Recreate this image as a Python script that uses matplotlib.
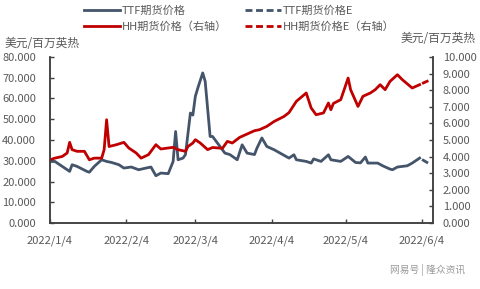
import matplotlib
matplotlib.use("Agg")
import matplotlib.pyplot as plt
import matplotlib.dates as mdates
import pandas as pd

plt.rcParams['font.family'] = ['Noto Sans CJK SC', 'DejaVu Sans']

# TTF futures price (left axis, USD/MMBtu)
ttf_dates = ["2022-01-04", "2022-01-06", "2022-01-09", "2022-01-12", "2022-01-13",
             "2022-01-15", "2022-01-19", "2022-01-20", "2022-01-22", "2022-01-25",
             "2022-01-27", "2022-01-29", "2022-02-01", "2022-02-03", "2022-02-06",
             "2022-02-09", "2022-02-12", "2022-02-14", "2022-02-16", "2022-02-18",
             "2022-02-21", "2022-02-23", "2022-02-24", "2022-02-25", "2022-02-27",
             "2022-02-28", "2022-03-02", "2022-03-03", "2022-03-04", "2022-03-05",
             "2022-03-07", "2022-03-08", "2022-03-10", "2022-03-11", "2022-03-13",
             "2022-03-16", "2022-03-18", "2022-03-21", "2022-03-23", "2022-03-25",
             "2022-03-28", "2022-03-29", "2022-03-31", "2022-04-02", "2022-04-05",
             "2022-04-11", "2022-04-13", "2022-04-14", "2022-04-18", "2022-04-20",
             "2022-04-21", "2022-04-24", "2022-04-27", "2022-04-28", "2022-05-02",
             "2022-05-05", "2022-05-08", "2022-05-10", "2022-05-12", "2022-05-13",
             "2022-05-17", "2022-05-19", "2022-05-22", "2022-05-23", "2022-05-25",
             "2022-05-29", "2022-05-31", "2022-06-03"]
ttf_vals = [29.7, 29.7, 27.3, 24.9, 28.1,
            27.3, 24.9, 24.5, 27.3, 30.5,
            29.7, 29.2, 28.1, 26.5, 27.0,
            25.7, 26.5, 27.0, 22.8, 24.1,
            23.8, 29.7, 44.1, 30.5, 31.3,
            33.0, 53.0, 52.0, 61.0, 65.0,
            72.3, 68.2, 41.7, 41.7, 38.5,
            33.7, 33.0, 30.5, 37.7, 33.7,
            33.0, 36.1, 41.0, 36.9, 35.3,
            31.3, 32.9, 30.5, 29.7, 28.9,
            30.9, 29.7, 32.9, 30.5, 29.7,
            32.1, 29.2, 29.0, 31.8, 28.9,
            28.9, 27.6, 26.0, 25.7, 27.0,
            27.6, 28.9, 31.3]
ttf_e_dates = ["2022-06-04", "2022-06-07"]
ttf_e_vals = [30.6, 28.5]

# HH futures price (right axis, USD/MMBtu)
hh_dates = ["2022-01-04", "2022-01-06", "2022-01-09", "2022-01-11", "2022-01-12",
            "2022-01-13", "2022-01-15", "2022-01-18", "2022-01-20", "2022-01-22",
            "2022-01-25", "2022-01-26", "2022-01-27", "2022-01-28", "2022-01-31",
            "2022-02-03", "2022-02-05", "2022-02-08", "2022-02-10", "2022-02-13",
            "2022-02-16", "2022-02-18", "2022-02-23", "2022-02-25", "2022-02-28",
            "2022-03-01", "2022-03-03", "2022-03-04", "2022-03-06", "2022-03-09",
            "2022-03-11", "2022-03-15", "2022-03-17", "2022-03-19", "2022-03-22",
            "2022-03-25", "2022-03-28", "2022-03-30", "2022-04-02", "2022-04-05",
            "2022-04-09", "2022-04-11", "2022-04-14", "2022-04-18", "2022-04-20",
            "2022-04-22", "2022-04-25", "2022-04-27", "2022-04-28", "2022-04-29",
            "2022-05-02", "2022-05-05", "2022-05-06", "2022-05-09", "2022-05-11",
            "2022-05-14", "2022-05-16", "2022-05-18", "2022-05-20", "2022-05-22",
            "2022-05-25", "2022-05-27", "2022-05-31", "2022-06-03"]
hh_vals = [3.81, 3.91, 4.01, 4.22, 4.86,
           4.42, 4.32, 4.32, 3.81, 3.91,
           3.91, 4.42, 6.22, 4.61, 4.72,
           4.86, 4.52, 4.22, 3.91, 4.12,
           4.72, 4.46, 4.56, 4.42, 4.32,
           4.61, 4.82, 5.02, 4.82, 4.42,
           4.55, 4.50, 4.92, 4.82, 5.16,
           5.36, 5.56, 5.62, 5.82, 6.12,
           6.42, 6.65, 7.33, 7.83, 6.93,
           6.52, 6.63, 7.23, 6.82, 7.20,
           7.43, 8.73, 8.03, 7.02, 7.63,
           7.83, 8.03, 8.33, 8.03, 8.53,
           8.93, 8.63, 8.13, 8.33]
hh_e_dates = ["2022-06-04", "2022-06-07"]
hh_e_vals = [8.40, 8.60]

x_ticks = ["2022-01-04", "2022-02-04", "2022-03-04", "2022-04-04", "2022-05-04", "2022-06-04"]

ttf_color = "#44546A"
hh_color = "#C00000"
axis_color = "#404040"
label_color = "#595959"

fig = plt.figure(figsize=(4.8, 2.89), dpi=100)
ax = fig.add_axes([0.104, 0.228, 0.798, 0.575])
ax2 = ax.twinx()

l1, = ax.plot(pd.to_datetime(ttf_dates), ttf_vals, color=ttf_color, lw=2.0, label="TTF期货价格")
l2, = ax.plot(pd.to_datetime(ttf_e_dates), ttf_e_vals, color=ttf_color, lw=2.0,
              ls=(0, (2.5, 1.3)), label="TTF期货价格E")
l3, = ax2.plot(pd.to_datetime(hh_dates), hh_vals, color=hh_color, lw=2.0, label="HH期货价格（右轴）")
l4, = ax2.plot(pd.to_datetime(hh_e_dates), hh_e_vals, color=hh_color, lw=2.0,
               ls=(0, (2.5, 1.3)), label="HH期货价格E（右轴）")

ax.set_xlim(pd.Timestamp("2022-01-04"), pd.Timestamp("2022-06-08 10:00"))
ax.set_ylim(0, 80)
ax2.set_ylim(0, 10)
ax.set_yticks(range(0, 81, 10))
ax2.set_yticks(range(0, 11, 1))
ax.yaxis.set_major_formatter(plt.FuncFormatter(lambda v, p: f"{v:.3f}"))
ax2.yaxis.set_major_formatter(plt.FuncFormatter(lambda v, p: f"{v:.3f}"))
ax.set_xticks(pd.to_datetime(x_ticks))
ax.xaxis.set_major_formatter(plt.FuncFormatter(
    lambda v, p: f"{mdates.num2date(v).year}/{mdates.num2date(v).month}/{mdates.num2date(v).day}"))

for a in (ax, ax2):
    a.spines["top"].set_visible(False)
    for s in ("left", "right", "bottom"):
        a.spines[s].set_color(axis_color)
        a.spines[s].set_linewidth(1.1)
    a.tick_params(direction="in", length=3, width=1, color=axis_color,
                  labelsize=8, labelcolor=label_color)
ax.tick_params(axis="y", pad=10)
ax2.tick_params(axis="y", pad=7)
ax.tick_params(axis="x", pad=9)

fig.text(0.01, 0.848, "美元/百万英热", fontsize=8.5, color=label_color, va="center")
fig.text(0.99, 0.866, "美元/百万英热", fontsize=8.5, color=label_color, va="center", ha="right")

fig.legend(handles=[l1, l3, l2, l4], ncol=2, loc="upper left", bbox_to_anchor=(0.155, 1.015),
           frameon=False, fontsize=8, handlelength=3.2, columnspacing=1.6,
           handletextpad=0.2, labelspacing=0.45, labelcolor=label_color)

fig.text(0.97, 0.065, "网易号 | 隆众资讯", fontsize=7, color="#9a9a9a", ha="right", va="center")

fig.savefig("out.png", dpi=100)
